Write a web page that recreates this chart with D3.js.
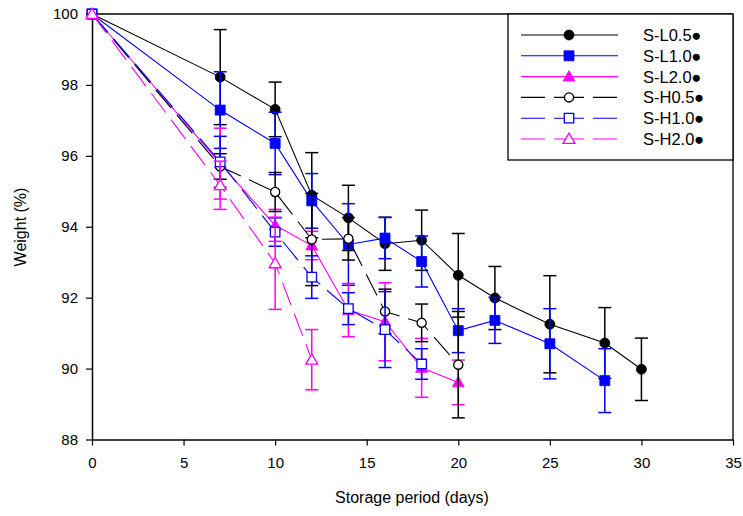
<!DOCTYPE html>
<html><head><meta charset="utf-8">
<script src="https://cdn.jsdelivr.net/npm/d3@7"></script>
<style>
body{margin:0;background:#fff;}
svg{display:block;font-family:"Liberation Sans",Arial,sans-serif;}
</style></head>
<body>
<svg id="c" width="743" height="516"></svg>
<script>
// ---- data ----
const seriesNames = ["S-L0.5●","S-L1.0●","S-L2.0●","S-H0.5●","S-H1.0●","S-H2.0●"];
const daysSL05 = [0,7,10,12,14,16,18,20,22,25,28,30];
const valSL05  = [100,98.22,97.31,94.89,94.25,93.52,93.62,92.63,91.99,91.25,90.72,89.98];
const errSL05  = [0,1.34,0.77,1.2,0.92,0.75,0.85,1.18,0.89,1.37,1.0,0.88];
const daysSL10 = [0,7,10,12,14,16,18,20,22,25,28];
const valSL10  = [100,97.29,96.35,94.73,93.5,93.68,93.02,91.07,91.36,90.7,89.66];
const errSL10  = [0,1.08,0.88,0.77,1.15,0.58,0.72,0.62,0.65,0.99,0.9];
const daysSL20 = [0,7,10,12,14,16,18,20];
const valSL20  = [100,95.78,94.04,93.47,91.65,91.32,90.02,89.61];
const errSL20  = [0,1.0,0.45,0.4,0.75,1.1,0.83,0.63];
const daysSH05 = [0,7,10,12,14,16,18,20];
const valSH05  = [100,95.7,94.98,93.64,93.66,91.61,91.29,90.11];
const errSH05  = [0,0.36,0.55,1.3,0.6,0.63,0.53,1.5];
const daysSH10 = [0,7,10,12,14,16,18];
const valSH10  = [100,95.83,93.85,92.58,91.69,91.1,90.13];
const errSH10  = [0,0.72,0.4,0.6,0.45,1.07,0.43];
const daysSH20 = [0,7,10,12];
const valSH20  = [100,95.17,92.97,90.25];
const errSH20  = [0,0.68,1.3,0.85];
const xTicks = [0,5,10,15,20,25,30,35];
const yTicks = [88,90,92,94,96,98,100];

const series = [
  {name:seriesNames[0], days:daysSL05, val:valSL05, err:errSL05, color:"#000000", shape:"circle",  filled:true,  dashed:false},
  {name:seriesNames[1], days:daysSL10, val:valSL10, err:errSL10, color:"#0000ff", shape:"square",  filled:true,  dashed:false},
  {name:seriesNames[2], days:daysSL20, val:valSL20, err:errSL20, color:"#ff00ff", shape:"triangle",filled:true,  dashed:false},
  {name:seriesNames[3], days:daysSH05, val:valSH05, err:errSH05, color:"#000000", shape:"circle",  filled:false, dashed:true},
  {name:seriesNames[4], days:daysSH10, val:valSH10, err:errSH10, color:"#0000ff", shape:"square",  filled:false, dashed:true},
  {name:seriesNames[5], days:daysSH20, val:valSH20, err:errSH20, color:"#ff00ff", shape:"triangle",filled:false, dashed:true}
];

const svg = d3.select("#c");
const L=92, R=733, T=14, B=439.5;
const x = d3.scaleLinear().domain([0,35]).range([L,R]);
const y = d3.scaleLinear().domain([88,100]).range([B,T]);

// frame
svg.append("line").attr("x1",L).attr("x2",R).attr("y1",T).attr("y2",T).attr("stroke","#000").attr("stroke-width",1.3);
svg.append("line").attr("x1",R).attr("x2",R).attr("y1",T).attr("y2",B).attr("stroke","#000").attr("stroke-width",1.3);

const gx = svg.append("g").attr("transform",`translate(0,${B})`)
  .call(d3.axisBottom(x).tickValues(xTicks).tickSize(6).tickPadding(12).tickSizeOuter(0));
const gy = svg.append("g").attr("transform",`translate(${L},0)`)
  .call(d3.axisLeft(y).tickValues(yTicks).tickSize(6).tickPadding(8).tickSizeOuter(0));
[gx,gy].forEach(g=>{
  g.select(".domain").attr("stroke","#000").attr("stroke-width",1.5);
  g.selectAll(".tick line").attr("stroke","#000").attr("stroke-width",1.2);
  g.selectAll(".tick text").attr("font-size",15).attr("fill","#000")
    .attr("font-family",'"Liberation Sans",Arial,sans-serif');
});

svg.append("text").attr("x",412).attr("y",503).attr("text-anchor","middle")
  .attr("font-size",16).text("Storage period (days)");
svg.append("text").attr("transform","translate(26,227) rotate(-90)").attr("text-anchor","middle")
  .attr("font-size",16).text("Weight (%)");

const symType = {circle:d3.symbolCircle, square:d3.symbolSquare, triangle:d3.symbolTriangle};
const symSize = {circle:{f:78,h:66}, square:{f:100,h:90}, triangle:{f:62,h:62}};
function drawMarker(g, s, cx, cy){
  const sz = s.filled ? symSize[s.shape].f : symSize[s.shape].h;
  g.append("path").attr("d", d3.symbol().type(symType[s.shape]).size(sz)())
    .attr("transform",`translate(${cx},${cy + (s.shape==="triangle"?1:0)})`)
    .attr("fill", s.filled ? s.color : "#fff")
    .attr("stroke", s.color).attr("stroke-width", s.filled?0.8:1.3);
}
const dashArr = "24,9";
const plot = svg.append("g");

// lines and error bars for each series, then markers
series.forEach(s=>{
  const g = plot.append("g");
  const pts = s.days.map((d,i)=>({d, v:s.val[i], e:s.err[i]}));
  g.append("path").datum(pts)
    .attr("d", d3.line().x(p=>x(p.d)).y(p=>y(p.v)))
    .attr("fill","none").attr("stroke",s.color).attr("stroke-width",1.1)
    .attr("stroke-dasharray", s.dashed?dashArr:null);
  pts.filter(p=>p.e>0).forEach(p=>{
    const cx=x(p.d), y1=y(p.v+p.e), y2=y(p.v-p.e);
    g.append("line").attr("x1",cx).attr("x2",cx).attr("y1",y1).attr("y2",y2)
      .attr("stroke",s.color).attr("stroke-width",1.5);
    [y1,y2].forEach(yy=>g.append("line").attr("x1",cx-6.5).attr("x2",cx+6.5).attr("y1",yy).attr("y2",yy)
      .attr("stroke",s.color).attr("stroke-width",1.5));
  });
  pts.forEach(p=>drawMarker(g, s, x(p.d), y(p.v)));
});

// legend
const lg = svg.append("g");
lg.append("rect").attr("x",508).attr("y",14).attr("width",225).attr("height",146)
  .attr("fill","#fff").attr("stroke","#000").attr("stroke-width",1.3);
series.forEach((s,i)=>{
  const yy = 35 + i*20.8;
  lg.append("line").attr("x1",521).attr("x2",618).attr("y1",yy).attr("y2",yy)
    .attr("stroke",s.color).attr("stroke-width",1.1)
    .attr("stroke-dasharray", s.dashed?"24,9,30,9":null);
  drawMarker(lg, s, 569, yy);
  lg.append("text").attr("x",643).attr("y",yy).attr("dy","0.36em")
    .attr("font-size",16.5).attr("fill","#000").text(s.name);
});
</script>
</body></html>
